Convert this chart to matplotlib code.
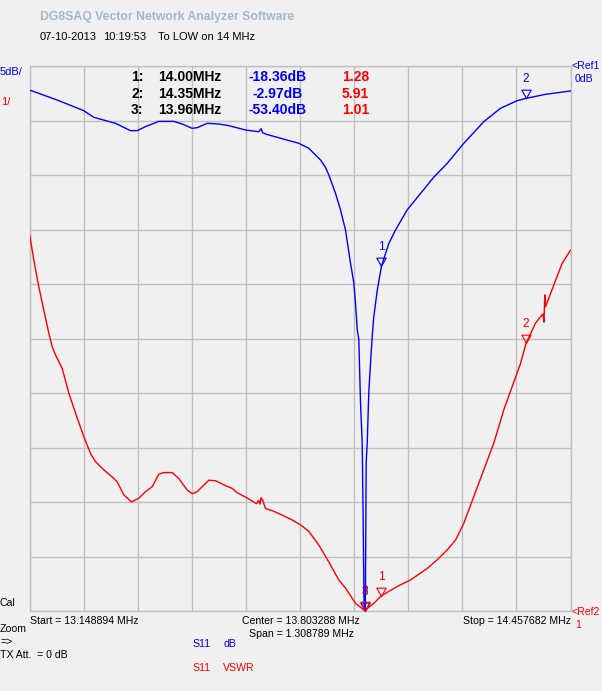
import matplotlib
matplotlib.use("Agg")
import matplotlib.pyplot as plt
import numpy as np
from matplotlib.path import Path

# ---------------- data ----------------
f_start = 13.148894
f_stop = 14.457682
f_center = 13.803288
f_span = 1.308789

# S11 dB trace (frequency MHz, dB)
s11_db_freq = [13.1489, 13.2198, 13.2802, 13.3045, 13.3569, 13.3932, 13.4094, 13.4295,
               13.4617, 13.4980, 13.5183, 13.5425, 13.5546, 13.5788, 13.6069, 13.6310,
               13.6714, 13.7036, 13.7094, 13.7126, 13.7198, 13.7602, 13.8004, 13.8246,
               13.8449, 13.8529, 13.8650, 13.8730, 13.8892, 13.9013, 13.9134, 13.9255,
               13.9335, 13.9376, 13.9418, 13.9456, 13.9497, 13.9538, 13.9562, 13.9577,
               13.9600, 13.9617, 13.9634, 13.9659, 13.9697, 13.9738, 13.9780, 13.9818,
               13.9901, 14.0004, 14.0181, 14.0343, 14.0626, 14.0948, 14.1270, 14.1594,
               14.1996, 14.2479, 14.2883, 14.3287, 14.3500, 14.3972, 14.4577]
s11_db = [-2.20, -3.18, -4.10, -4.71, -5.26, -5.93, -5.93, -5.56,
          -5.08, -5.08, -5.32, -5.72, -5.66, -5.26, -5.32, -5.47,
          -5.87, -6.03, -5.75, -6.10, -6.24, -6.67, -7.09, -7.55,
          -8.32, -8.62, -9.30, -10.0, -11.68, -13.2, -15.05, -18.1,
          -19.9, -21.8, -24.2, -25.1, -30.9, -34.6, -42.0, -47.5,
          -53.40, -47.5, -36.4, -34.6, -30.0, -27.3, -24.8, -23.0,
          -20.6, -18.36, -16.3, -15.05, -13.2, -11.7, -10.2, -8.93,
          -7.09, -5.11, -3.88, -3.18, -2.97, -2.60, -2.29]

# S11 VSWR trace (frequency MHz, VSWR)
vswr_freq = [13.1489, 13.1593, 13.1714, 13.1835, 13.1956, 13.2038, 13.2118, 13.2280,
             13.2440, 13.2602, 13.2802, 13.2965, 13.3086, 13.3286, 13.3490, 13.3610,
             13.3770, 13.3957, 13.4133, 13.4295, 13.4457, 13.4617, 13.4738, 13.4941,
             13.5101, 13.5304, 13.5425, 13.5546, 13.5667, 13.5827, 13.5989, 13.6231,
             13.6393, 13.6514, 13.6714, 13.6915, 13.6981, 13.7029, 13.7065, 13.7090,
             13.7126, 13.7198, 13.7361, 13.7602, 13.7844, 13.8045, 13.8246, 13.8488,
             13.8730, 13.8971, 13.9134, 13.9376, 13.9600, 13.9818, 14.0004, 14.0384,
             14.0706, 14.1110, 14.1352, 14.1594, 14.1795, 14.1996, 14.2237, 14.2479,
             14.2721, 14.2963, 14.3167, 14.3367, 14.3500, 14.3730, 14.3851, 14.3911,
             14.3935, 14.3955, 14.3972, 14.4172, 14.4376, 14.4577]
vswr = [7.92, 7.44, 6.95, 6.52, 6.10, 5.85, 5.70, 5.45,
        5.00, 4.63, 4.20, 3.89, 3.74, 3.59, 3.46, 3.37,
        3.13, 3.00, 3.07, 3.19, 3.28, 3.51, 3.54, 3.54,
        3.43, 3.22, 3.15, 3.19, 3.28, 3.40, 3.39, 3.30,
        3.25, 3.17, 3.09, 3.00, 2.97, 3.03, 2.96, 3.08,
        3.04, 2.88, 2.84, 2.76, 2.67, 2.58, 2.46, 2.21,
        1.90, 1.57, 1.42, 1.14, 1.01, 1.14, 1.28, 1.45,
        1.57, 1.78, 1.94, 2.12, 2.30, 2.61, 3.10, 3.59,
        4.08, 4.69, 5.12, 5.54, 5.91, 6.28, 6.40, 6.45,
        6.30, 6.80, 6.58, 6.98, 7.38, 7.62]

marker_ids = ["1", "2", "3"]
marker_freq = [14.00, 14.35, 13.96]
marker_db = [-18.36, -2.97, -53.40]
marker_vswr = [1.28, 5.91, 1.01]

db_per_div = 5
db_ref = 0
vswr_per_div = 1
vswr_ref = 1
n_div = 10

# ---------------- figure ----------------
W, H = 602, 691
BG = "#F0F0F0"
BLUE = "#0000FF"
RED = "#FF0000"
GRID = "#C0C0C0"
FONT = "Liberation Sans"

fig = plt.figure(figsize=(W / 100, H / 100), dpi=100, facecolor=BG)

L, R, T, B = 29.5, 570.5, 66, 611
ax = fig.add_axes([L / W, 1 - B / H, (R - L) / W, (B - T) / H])
ax.set_facecolor(BG)
ax.set_xlim(f_start, f_stop)
ax.set_ylim(db_ref - n_div * db_per_div, db_ref)
ax.set_xticks(np.linspace(f_start, f_stop, n_div + 1))
ax.set_yticks(np.linspace(db_ref - n_div * db_per_div, db_ref, n_div + 1))
ax.tick_params(length=0, labelbottom=False, labelleft=False)
ax.grid(True, color=GRID, linewidth=1.0)
ax.set_axisbelow(True)
for s in ax.spines.values():
    s.set_color(GRID)
    s.set_linewidth(1.0)

ax2 = ax.twinx()
ax2.set_ylim(vswr_ref, vswr_ref + n_div * vswr_per_div)
ax2.set_yticks([])
ax2.tick_params(length=0, labelright=False)
for s in ax2.spines.values():
    s.set_visible(False)

ax.plot(s11_db_freq, s11_db, color=BLUE, linewidth=1.0, zorder=3)
ax2.plot(vswr_freq, vswr, color=RED, linewidth=1.0, zorder=3)

# marker triangles (apex at the data point)
tri = Path([(-4.5, 8), (4.5, 8), (0, 0), (-4.5, 8)],
           [Path.MOVETO, Path.LINETO, Path.LINETO, Path.CLOSEPOLY])
ylo = db_ref - n_div * db_per_div
for mid, mf, md, mv in zip(marker_ids, marker_freq, marker_db, marker_vswr):
    yd = max(md, ylo)
    ax.plot([mf], [yd], marker=tri, markersize=12, markerfacecolor="none",
            markeredgecolor=BLUE, markeredgewidth=0.8, linestyle="none", zorder=4, clip_on=False)
    ax.annotate(mid, (mf, yd), xytext=(0, 9.5), textcoords="offset points",
                ha="center", va="bottom", color=BLUE, fontsize=8.5, family=FONT)
    ax2.plot([mf], [mv], marker=tri, markersize=12, markerfacecolor="none",
             markeredgecolor=RED, markeredgewidth=0.8, linestyle="none", zorder=4, clip_on=False)
    ax2.annotate(mid, (mf, mv), xytext=(0, 9.5), textcoords="offset points",
                 ha="center", va="bottom", color=RED, fontsize=8.5, family=FONT)


def t(x, y, s, **kw):
    kw.setdefault("family", FONT)
    kw.setdefault("va", "center")
    fig.text(x / W, 1 - y / H, s, **kw)


# header
t(40, 17, "DG8SAQ Vector Network Analyzer Software", fontsize=8.8, weight="bold", color="#A3B8D0")
t(40, 37, "07-10-2013", fontsize=8, color="black")
t(103, 37, "10:19:53", fontsize=8, color="black")
t(158, 37, "To LOW on 14 MHz", fontsize=8, color="black")

# scale labels
t(0, 72, "5dB/", fontsize=8, color=BLUE)
t(1, 102, "1/", fontsize=8, color=RED)
t(571, 66, "<Ref1", fontsize=7.6, color=BLUE)
t(575, 79, "0dB", fontsize=7.6, color=BLUE)
t(571, 612, "<Ref2", fontsize=7.6, color=RED)
t(575, 625, "1", fontsize=7.6, color=RED)

# marker table
rows_y = [77, 94, 110.5]
for mid, mf, md, mv, yy in zip(marker_ids, marker_freq, marker_db, marker_vswr, rows_y):
    t(143.5, yy, f"{mid}:", fontsize=10, weight="bold", color="black", ha="right")
    t(158, yy, f"{mf:.2f}MHz", fontsize=10, weight="bold", color="black")
    t(277.5, yy, f"{md:.2f}dB", fontsize=10, weight="bold", color=BLUE, ha="center")
    t(342, yy, f"{mv:.2f}", fontsize=10, weight="bold", color=RED)

# bottom info
FS = 7.6
t(0, 603, "Cal", fontsize=FS, color="black")
t(30, 621, f"Start = {f_start:.6f} MHz", fontsize=FS, color="black")
t(360, 621, f"Center = {f_center:.6f} MHz", fontsize=FS, color="black", ha="right")
t(354, 634, f"Span = {f_span:.6f} MHz", fontsize=FS, color="black", ha="right")
t(571, 621, f"Stop = {f_stop:.6f} MHz", fontsize=FS, color="black", ha="right")
t(0, 629, "Zoom", fontsize=FS, color="black")
t(0, 642, "=>", fontsize=FS, color="black")
t(0, 655, "TX Att.  = 0 dB", fontsize=FS, color="black")
t(192, 644, "S11", fontsize=FS, color=BLUE)
t(223, 644, "dB", fontsize=FS, color=BLUE)
t(192, 668, "S11", fontsize=FS, color=RED)
t(223, 668, "VSWR", fontsize=FS, color=RED)

fig.savefig("out.png", dpi=100, facecolor=BG)
